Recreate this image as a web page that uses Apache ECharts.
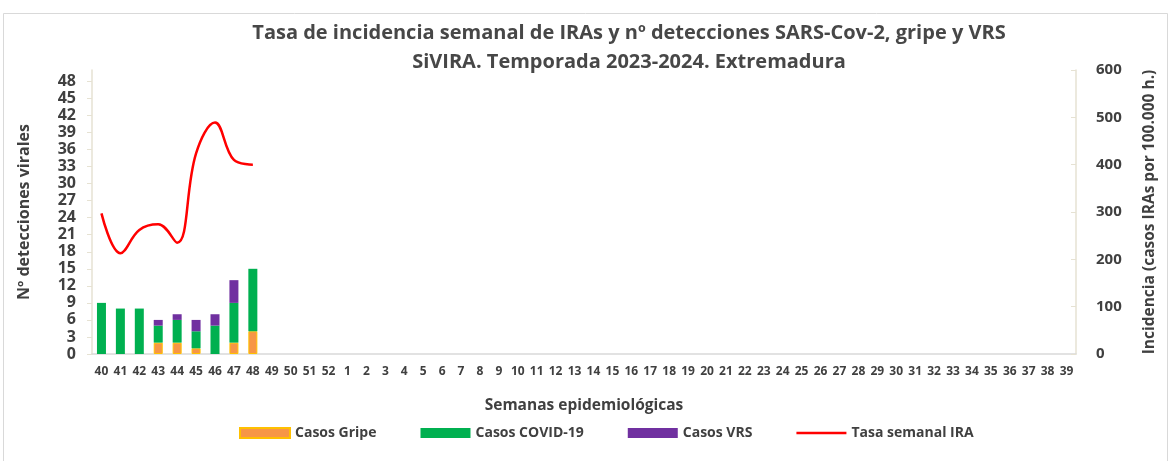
<!DOCTYPE html>
<html>
<head>
<meta charset="utf-8">
<script src="https://cdn.jsdelivr.net/npm/echarts@6/dist/echarts.min.js"></script>
<style>
  html, body { margin: 0; padding: 0; background: #fff; }
  #chart { width: 1171px; height: 461px; }
</style>
</head>
<body>
<div id="chart"></div>
<script>
// semanas epidemiologicas 40..52, 1..39
var semanas = ['40','41','42','43','44','45','46','47','48','49','50','51','52',
  '1','2','3','4','5','6','7','8','9','10','11','12','13','14','15','16','17','18','19','20',
  '21','22','23','24','25','26','27','28','29','30','31','32','33','34','35','36','37','38','39'];

// detecciones (semanas 40-48)
var casosGripe = [0, 0, 0, 2, 2, 1, 0, 2, 4];
var casosCovid = [9, 8, 8, 3, 4, 3, 5, 7, 11];
var casosVRS   = [0, 0, 0, 1, 1, 2, 2, 4, 0];

// tasa semanal IRA (casos por 100.000 h.)
var tasaIRA = [297, 213, 262, 274, 235, 424, 489, 410, 400];

var FONT = '"Open Sans", Lato, sans-serif';
var txt = '#404040';

// ceros sin dibujar (si no se ve el borde del apilado)
function sinCeros(arr) {
    return arr.map(function (v) { return v === 0 ? null : v; });
}

var chart = echarts.init(document.getElementById('chart'));

var option = {
    backgroundColor: '#fff',
    animation: false,
    title: {
        text: 'Tasa de incidencia semanal de IRAs y nº detecciones SARS-Cov-2, gripe y VRS\nSiVIRA. Temporada 2023-2024. Extremadura',
        left: 624,
        top: 14,
        textAlign: 'center',
        textStyle: {
            fontFamily: FONT,
            fontSize: 20,
            fontWeight: 'bold',
            color: '#474747',
            lineHeight: 29
        }
    },
    legend: {
        bottom: 16,
        left: 234,
        itemWidth: 50,
        itemHeight: 10,
        itemGap: 44,
        textStyle: { fontFamily: FONT, fontSize: 14, fontWeight: 'bold', color: txt },
        data: [
            { name: 'Casos Gripe', icon: 'rect' },
            { name: 'Casos COVID-19', icon: 'rect' },
            { name: 'Casos VRS', icon: 'rect' },
            { name: 'Tasa semanal IRA', icon: 'path://M0,0h50v2.5h-50z' }
        ]
    },
    grid: {
        left: 92,
        right: 95,
        top: 70,
        bottom: 107
    },
    xAxis: {
        type: 'category',
        data: semanas,
        name: 'Semanas epidemiológicas',
        nameLocation: 'middle',
        nameGap: 44,
        nameTextStyle: { fontFamily: FONT, fontSize: 15.5, fontWeight: 'bold', color: txt },
        axisLine: { lineStyle: { color: '#D9D9D9', width: 1.5 } },
        axisTick: { show: false },
        axisLabel: {
            interval: 0,
            margin: 12,
            fontFamily: FONT,
            fontSize: 12,
            fontWeight: 'bold',
            color: txt
        }
    },
    yAxis: [
        {
            type: 'value',
            min: 0,
            max: 50,
            interval: 3,
            name: 'Nº detecciones virales',
            nameLocation: 'middle',
            nameRotate: 90,
            nameGap: 60,
            nameTextStyle: { fontFamily: FONT, fontSize: 16, fontWeight: 'bold', color: txt },
            axisLine: { show: true, lineStyle: { color: '#E6E2D3', width: 1.5 } },
            axisTick: { show: true, length: 5, lineStyle: { color: '#E6E2D3' } },
            splitLine: { show: false },
            axisLabel: {
                showMaxLabel: false,
                margin: 16,
                fontFamily: FONT,
                fontSize: 16,
                fontWeight: 'bold',
                color: txt
            }
        },
        {
            type: 'value',
            min: 0,
            max: 600,
            interval: 100,
            position: 'right',
            name: 'Incidencia (casos IRAs por 100.000 h.)',
            nameLocation: 'middle',
            nameRotate: 90,
            nameGap: 66,
            nameTextStyle: { fontFamily: FONT, fontSize: 15.5, fontWeight: 'bold', color: txt },
            axisLine: { show: true, lineStyle: { color: '#E6E2D3', width: 1.5 } },
            axisTick: { show: true, inside: true, length: 5, lineStyle: { color: '#E6E2D3' } },
            splitLine: { show: false },
            axisLabel: {
                margin: 20,
                fontFamily: FONT,
                fontSize: 15,
                fontWeight: 'bold',
                color: txt
            }
        }
    ],
    series: [
        {
            name: 'Casos Gripe',
            type: 'bar',
            stack: 'det',
            barWidth: 9,
            data: sinCeros(casosGripe),
            itemStyle: { color: '#F79646', borderColor: '#FFC000', borderWidth: 1 }
        },
        {
            name: 'Casos COVID-19',
            type: 'bar',
            stack: 'det',
            barWidth: 9,
            data: sinCeros(casosCovid),
            itemStyle: { color: '#00B050' }
        },
        {
            name: 'Casos VRS',
            type: 'bar',
            stack: 'det',
            barWidth: 9,
            data: sinCeros(casosVRS),
            itemStyle: { color: '#7030A0' }
        },
        {
            name: 'Tasa semanal IRA',
            type: 'line',
            yAxisIndex: 1,
            smooth: 0.4,
            symbol: 'none',
            data: tasaIRA,
            lineStyle: { color: '#FF0000', width: 2.5 },
            itemStyle: { color: '#FF0000' }
        }
    ],
    graphic: [
        {
            type: 'rect',
            shape: { x: 3.5, y: 13.5, width: 1164, height: 460 },
            style: { fill: 'none', stroke: '#D9D9D9', lineWidth: 1 },
            silent: true
        }
    ]
};

chart.setOption(option);
</script>
</body>
</html>
